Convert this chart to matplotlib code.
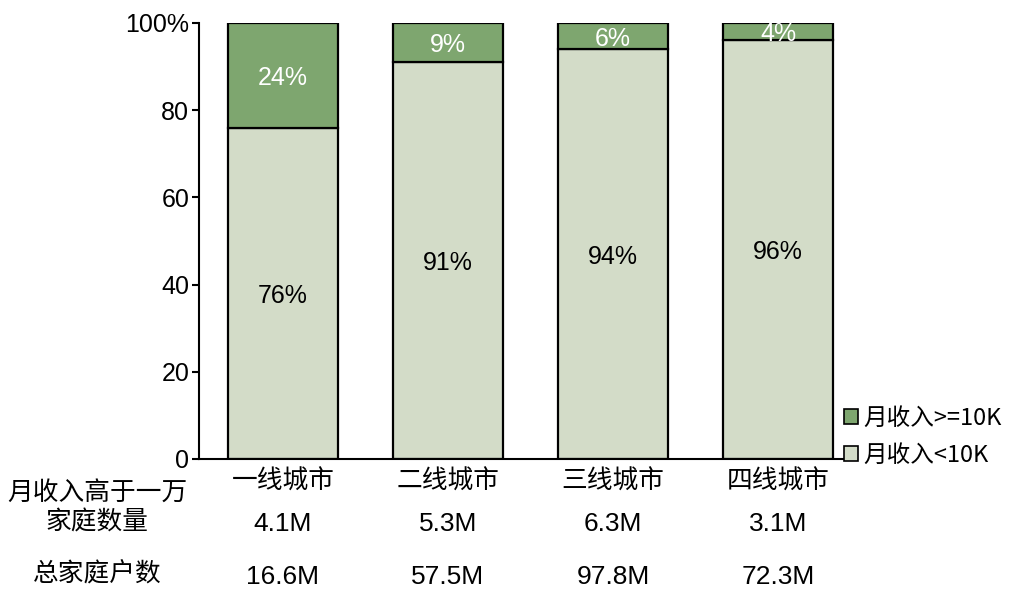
import matplotlib
matplotlib.use("Agg")
import matplotlib.pyplot as plt
from matplotlib.patches import Patch
from matplotlib.transforms import blended_transform_factory

plt.rcParams['font.family'] = ['Liberation Sans', 'Noto Sans CJK SC', 'DejaVu Sans']

cities = ["一线城市", "二线城市", "三线城市", "四线城市"]
low_share = [76, 91, 94, 96]      # 月收入<10K
high_share = [24, 9, 6, 4]        # 月收入>=10K
high_households = ["4.1M", "5.3M", "6.3M", "3.1M"]
total_households = ["16.6M", "57.5M", "97.8M", "72.3M"]
yticks = [0, 20, 40, 60, 80, 100]
ytick_labels = ["0", "20", "40", "60", "80", "100%"]

c_high = "#7EA66F"
c_low = "#D3DCC8"
cjk = ['Noto Sans CJK SC', 'DejaVu Sans']

fig = plt.figure(figsize=(10.26, 5.89), dpi=100)
ax = fig.add_axes([199 / 1026, 1 - 459 / 589, (845 - 199) / 1026, (459 - 23) / 589])

x = list(range(len(cities)))
w = 0.667
ax.bar(x, low_share, width=w, color=c_low, edgecolor="black", linewidth=1.6, zorder=2)
ax.bar(x, high_share, width=w, bottom=low_share, color=c_high, edgecolor="black",
       linewidth=1.6, zorder=2)

for xi, lo, hi in zip(x, low_share, high_share):
    ax.text(xi, lo / 2, f"{lo}%", ha="center", va="center_baseline", fontsize=18,
            color="black")
    ax.text(xi, lo + hi / 2, f"{hi}%", ha="center", va="center_baseline", fontsize=18,
            color="white")

ax.set_xlim(-0.509, 3.406)
ax.set_ylim(0, 100)
ax.set_yticks(yticks)
ax.set_yticklabels(ytick_labels, fontsize=18)
ax.tick_params(axis="y", direction="out", length=5, width=1.5, pad=2)
ax.set_xticks(x)
ax.set_xticklabels(cities, fontsize=18.5, family=cjk)
ax.tick_params(axis="x", length=0, pad=7)
for s in ("top", "right"):
    ax.spines[s].set_visible(False)
for s in ("left", "bottom"):
    ax.spines[s].set_linewidth(1.5)

# rows of household counts under the category labels
tr = blended_transform_factory(ax.transData, fig.transFigure)
for xi, hv, tv in zip(x, high_households, total_households):
    ax.text(xi, 1 - 524 / 589, hv, transform=tr, ha="center", va="center", fontsize=19)
    ax.text(xi, 1 - 577 / 589, tv, transform=tr, ha="center", va="center", fontsize=19)

fig.text(97 / 1026, 1 - 493 / 589, "月收入高于一万", ha="center", va="center",
         fontsize=18.5, family=cjk)
fig.text(97 / 1026, 1 - 523 / 589, "家庭数量", ha="center", va="center",
         fontsize=18.5, family=cjk)
fig.text(97 / 1026, 1 - 575 / 589, "总家庭户数", ha="center", va="center",
         fontsize=18.5, family=cjk)

handles = [Patch(facecolor=c_high, edgecolor="black", linewidth=1.2, label="月收入>=10K"),
           Patch(facecolor=c_low, edgecolor="black", linewidth=1.2, label="月收入<10K")]
leg = fig.legend(handles=handles, loc="center left",
                 bbox_to_anchor=(844 / 1026, 1 - 437 / 589), frameon=False,
                 fontsize=17, handlelength=0.6, handleheight=0.6, handletextpad=0.2,
                 labelspacing=0.6, borderaxespad=0, borderpad=0)
for t in leg.get_texts():
    t.set_family(['Noto Sans CJK SC', 'DejaVu Sans'])

fig.savefig("out.png", dpi=100)
